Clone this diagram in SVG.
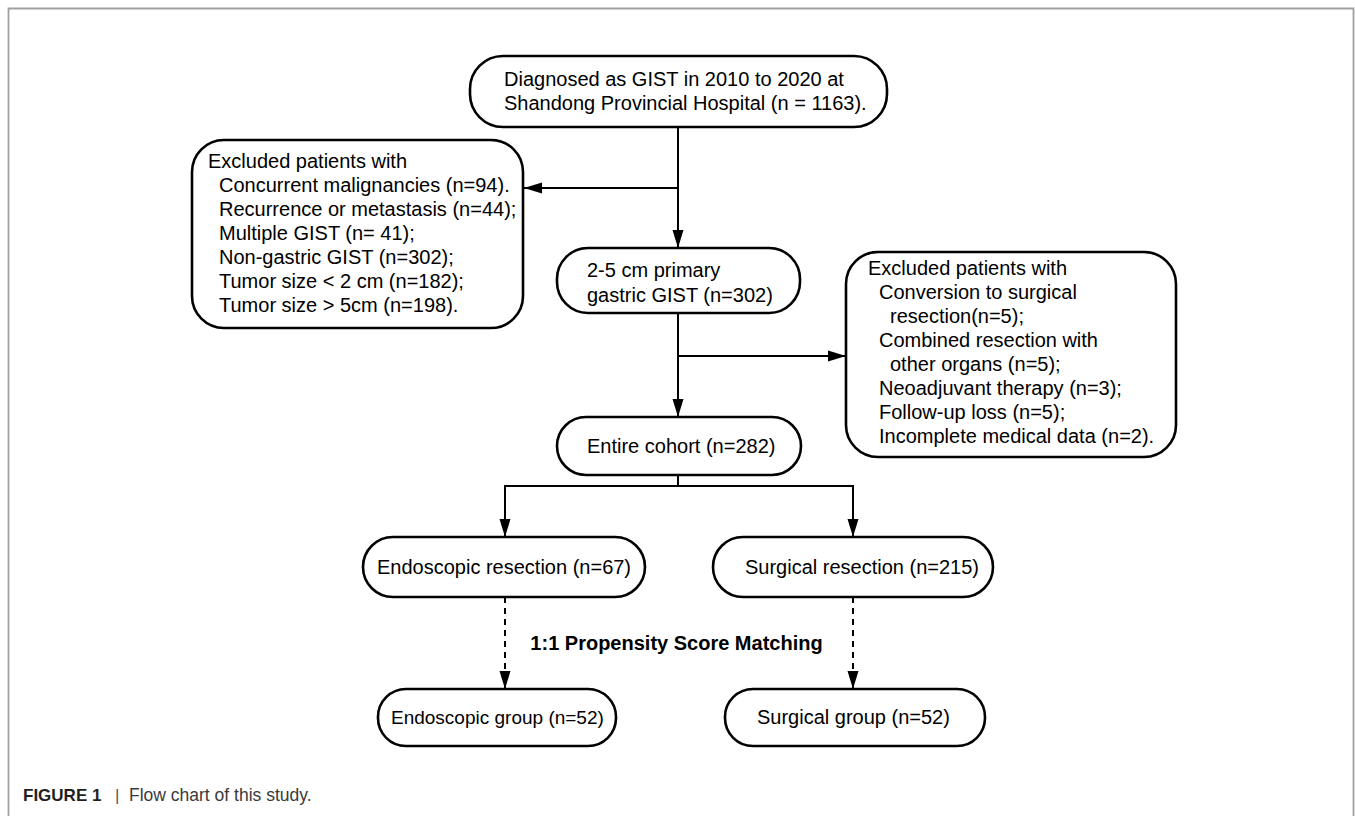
<svg xmlns="http://www.w3.org/2000/svg" width="1355" height="816" viewBox="0 0 1355 816">
<style>
  .box{fill:#fff;stroke:#000;stroke-width:2.6}
  .t{font-family:"Liberation Sans",Arial,sans-serif;font-size:20px;fill:#000}
  .b{font-weight:bold}
  .ln{fill:none;stroke:#000;stroke-width:2}
  .ar{marker-end:url(#ah)}
  .dash{stroke-dasharray:6 5}
  .cap{font-family:"Liberation Sans",Arial,sans-serif;font-size:17px}
</style>
<defs>
  <marker id="ah" markerUnits="userSpaceOnUse" markerWidth="18" markerHeight="12" refX="18" refY="6" orient="auto">
    <path d="M0,0.5 L18,6 L0,11.5 z" fill="#000"/>
  </marker>
</defs>
<rect width="1355" height="816" fill="#fff"/>
<path d="M8.5,816 V8.5 H1353.5 V816" fill="none" stroke="#a0a0a0" stroke-width="1.8"/>

<g id="connectors">
  <path class="ln ar" d="M678,127 V248"/>
  <path class="ln ar" d="M678,188 H524"/>
  <path class="ln ar" d="M678,313 V417"/>
  <path class="ln ar" d="M678,356 H846"/>
  <path class="ln" d="M678,475 V486 M505,486 H853"/>
  <path class="ln ar" d="M505,485 V537"/>
  <path class="ln ar" d="M853,485 V537"/>
  <path class="ln ar dash" d="M505,597 V689"/>
  <path class="ln ar dash" d="M853,597 V689"/>
</g>

<g id="top">
  <rect class="box" x="470" y="56" width="417" height="71" rx="33"/>
  <text class="t" x="504" y="86">Diagnosed as GIST in 2010 to 2020 at</text>
  <text class="t" x="504" y="110">Shandong Provincial Hospital (n = 1163).</text>
</g>

<g id="excluded1">
  <rect class="box" x="192" y="140" width="331" height="188" rx="32"/>
  <text class="t" x="208" y="168">Excluded patients with</text>
  <text class="t" x="219" y="192">Concurrent malignancies (n=94).</text>
  <text class="t" x="219" y="216">Recurrence or metastasis (n=44);</text>
  <text class="t" x="219" y="240">Multiple GIST (n= 41);</text>
  <text class="t" x="219" y="264">Non-gastric GIST (n=302);</text>
  <text class="t" x="219" y="288">Tumor size &lt; 2 cm (n=182);</text>
  <text class="t" x="219" y="312">Tumor size &gt; 5cm (n=198).</text>
</g>

<g id="primary">
  <rect class="box" x="557" y="248" width="243" height="65" rx="31"/>
  <text class="t" x="587" y="277">2-5 cm primary</text>
  <text class="t" x="587" y="302">gastric GIST (n=302)</text>
</g>

<g id="excluded2">
  <rect class="box" x="846" y="252" width="330" height="205" rx="32"/>
  <text class="t" x="868" y="275">Excluded patients with</text>
  <text class="t" x="879" y="299">Conversion to surgical</text>
  <text class="t" x="890" y="323">resection(n=5);</text>
  <text class="t" x="879" y="347">Combined resection with</text>
  <text class="t" x="890" y="371">other organs (n=5);</text>
  <text class="t" x="879" y="395">Neoadjuvant therapy (n=3);</text>
  <text class="t" x="879" y="419">Follow-up loss (n=5);</text>
  <text class="t" x="879" y="443">Incomplete medical data (n=2).</text>
</g>

<g id="cohort">
  <rect class="box" x="557" y="417" width="244" height="58" rx="29"/>
  <text class="t" x="587" y="453">Entire cohort (n=282)</text>
</g>

<g id="endo_res">
  <rect class="box" x="363" y="537" width="282" height="60" rx="30"/>
  <text class="t" x="377" y="574">Endoscopic resection (n=67)</text>
</g>

<g id="surg_res">
  <rect class="box" x="713" y="537" width="280" height="60" rx="30"/>
  <text class="t" x="745" y="574">Surgical resection (n=215)</text>
</g>

<g id="psm">
  <text class="t b" x="676.5" y="650" text-anchor="middle">1:1 Propensity Score Matching</text>
</g>

<g id="endo_grp">
  <rect class="box" x="378" y="689" width="238" height="57" rx="28"/>
  <text class="t" x="391" y="724" style="font-size:19px">Endoscopic group (n=52)</text>
</g>

<g id="surg_grp">
  <rect class="box" x="725" y="689" width="260" height="57" rx="28"/>
  <text class="t" x="757" y="724">Surgical group (n=52)</text>
</g>

<g id="caption">
  <text class="cap b" x="23" y="801" fill="#231f20">FIGURE 1</text>
  <text class="cap" x="115" y="801" fill="#555">|</text>
  <text class="cap" x="129" y="801" fill="#3a3a3a" style="font-size:17.5px">Flow chart of this study.</text>
</g>
</svg>
